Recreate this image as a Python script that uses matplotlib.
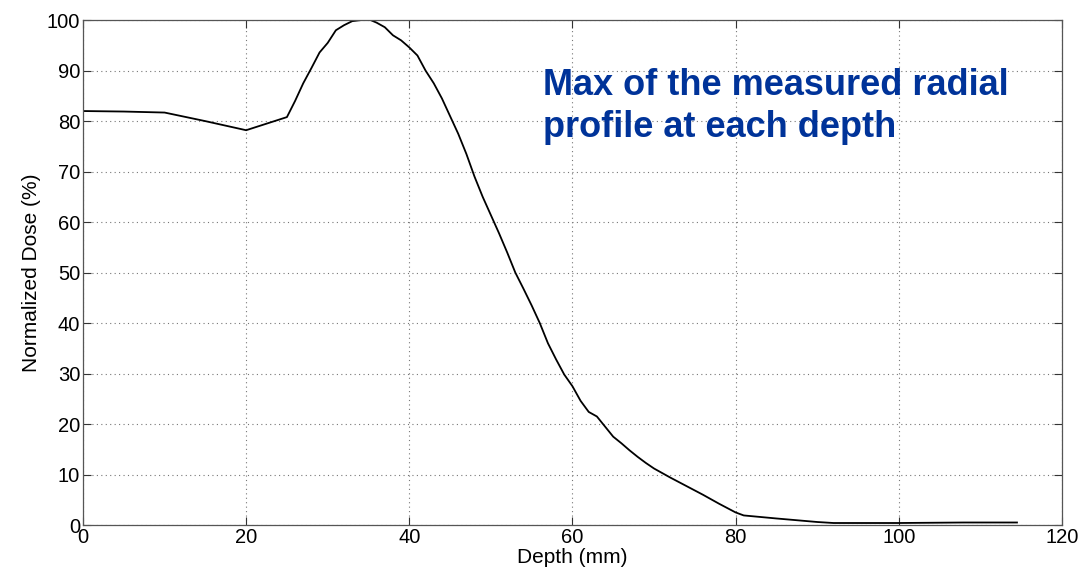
import matplotlib
matplotlib.use("Agg")
import matplotlib.pyplot as plt

# depth-dose curve: max of the radial profile at each depth
depth = [0, 5, 10, 15, 20, 25, 26, 27, 28, 29, 30, 31, 32, 33, 34, 35, 36, 37,
         38, 39, 40, 41, 42, 43, 44, 45, 46, 47, 48, 49, 50, 51, 52, 53, 54,
         55, 56, 57, 58, 59, 60, 61, 62, 63, 64, 65, 66, 67, 68, 69, 70, 72,
         74, 76, 78, 80, 81, 85, 90, 92, 100, 108, 114.5]
dose = [82, 81.9, 81.7, 80, 78.2, 80.8, 84, 87.5, 90.5, 93.6, 95.5, 98, 99,
        99.8, 100, 100.2, 99.5, 98.6, 97, 96, 94.6, 93, 90, 87.5, 84.5, 81,
        77.5, 73.5, 69, 65, 61.4, 57.8, 54, 50, 46.8, 43.5, 40, 36, 32.8,
        29.8, 27.5, 24.6, 22.4, 21.5, 19.5, 17.5, 16.2, 14.8, 13.5, 12.3,
        11.2, 9.4, 7.7, 6, 4.2, 2.5, 1.9, 1.3, 0.6, 0.4, 0.4, 0.5, 0.5]

xticks = [0, 20, 40, 60, 80, 100, 120]
yticks = [0, 10, 20, 30, 40, 50, 60, 70, 80, 90, 100]

plt.rcParams["font.family"] = ["Liberation Sans", "DejaVu Sans"]

fig = plt.figure(figsize=(10.78, 5.76), dpi=100)
ax = fig.add_axes([0.077, 0.0885, 0.908, 0.8765])

ax.plot(depth, dose, color="black", lw=1.3)

ax.set_xlim(0, 120)
ax.set_ylim(0, 100)
ax.set_xticks(xticks)
ax.set_yticks(yticks)
ax.tick_params(direction="in", length=6, top=True, right=True,
               labelsize=14.5, pad=2, color="#333333")
ax.grid(True, linestyle=(0, (1, 3)), color="#777777", lw=0.8)
for sp in ax.spines.values():
    sp.set_color("#555555")
    sp.set_linewidth(0.9)

ax.set_xlabel("Depth (mm)", fontsize=15, labelpad=1)
ax.set_ylabel("Normalized Dose (%)", fontsize=15, labelpad=4)

# baseline of the last line sits at y
ax.text(56.4, 76.8, "Max of the measured radial\nprofile at each depth",
        color="#003399", fontsize=26, fontweight="bold",
        ha="left", va="baseline", linespacing=1.27)

# title of the panel above, cut at the top edge
fig.text(0.591, 1.009, "Depth (mm)", ha="right", va="baseline", fontsize=14)

fig.savefig("out.png", dpi=100)
